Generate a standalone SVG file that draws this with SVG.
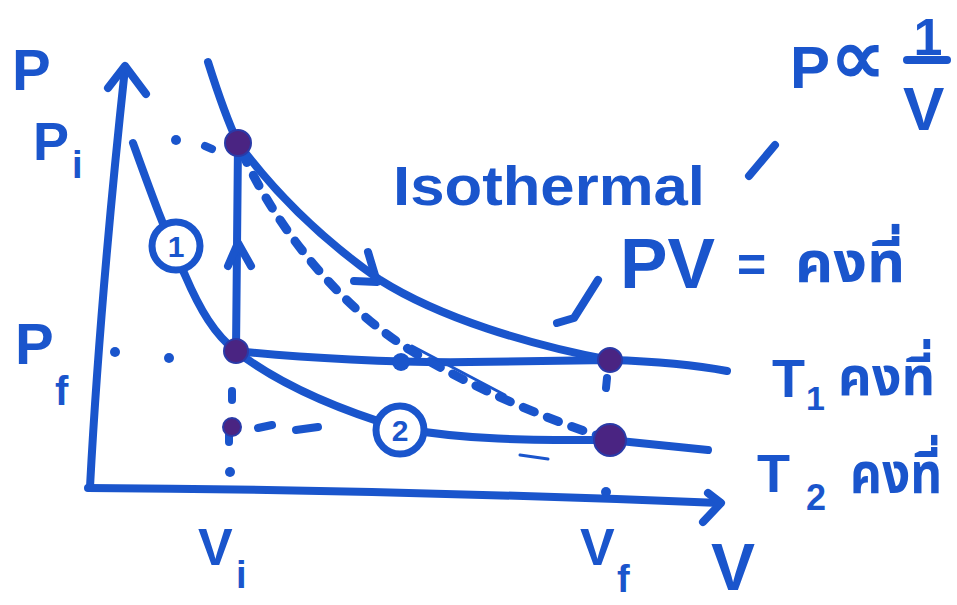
<svg xmlns="http://www.w3.org/2000/svg" width="957" height="605" viewBox="0 0 957 605">
<style>
.ink{fill:none;stroke:#1a55cc;stroke-width:8;stroke-linecap:round;stroke-linejoin:round}
.thin{fill:none;stroke:#1a55cc;stroke-width:3;stroke-linecap:round}
.dash{fill:none;stroke:#1a55cc;stroke-width:9;stroke-linecap:round;stroke-dasharray:12 14}
.dot{fill:#1a55cc}
.pt{fill:#4a2482;stroke:#2a3aa8;stroke-width:2}
.t{font-family:"Liberation Sans","Noto Sans",Arial,sans-serif;font-weight:bold;fill:#1a55cc}
.th{font-family:"Noto Sans Thai","Noto Sans","Liberation Sans","DejaVu Sans",sans-serif;font-weight:bold;fill:#1a55cc}
</style>
<rect width="957" height="605" fill="#ffffff"/>

<g id="axes">
  <path class="ink" d="M90 487 Q100 300 125 68"/>
  <path class="ink" d="M108 88 L125 66 L146 94"/>
  <path class="ink" d="M88 488 Q400 490 720 503"/>
  <path class="ink" d="M708 493 L721 503 L703 522"/>
</g>

<g id="connectors">
  <!-- T1 isotherm -->
  <path class="ink" d="M208 62 C220 100 228 122 238 143 C280 200 330 245 380 280 C440 318 530 345 610 360"/>
  <path class="ink" d="M368 252 L377 282 L354 281"/>
  <!-- Pf isobar -->
  <path class="ink" d="M236 351 C300 358 400 363 470 362 L610 360 Q680 362 727 371"/>
  <!-- T2 isotherm -->
  <path class="ink" d="M133 143 C150 190 165 232 185 275 C200 310 215 335 236 351 C280 385 340 410 400 428 C470 441 540 440 610 440 L708 450"/>
  <!-- vertical Vi with arrow -->
  <path class="ink" d="M238 143 L236 351"/>
  <path class="ink" d="M228 266 L238 243 L251 266"/>
  <!-- dashed adiabatic -->
  <path class="dash" d="M242 152 C270 215 330 300 410 350 C480 392 550 420 605 438"/>
  <path class="thin" d="M300 212 L318 232"/>
  <path class="thin" d="M412 346 L505 395"/>
  <path class="thin" d="M520 455 L548 459"/>
  <!-- dotted guides -->
  <circle class="dot" cx="176" cy="140" r="5"/>
  <path class="ink" d="M205 146 L212 149"/>
  <circle class="dot" cx="115" cy="352" r="5"/>
  <circle class="dot" cx="169" cy="358" r="5"/>
  <path class="ink" d="M232 391 L232 400"/>
  <path class="ink" d="M258 428 L272 425"/>
  <path class="ink" d="M296 430 L318 427"/>
  <path class="ink" d="M229 435 L229 442"/>
  <circle class="dot" cx="230" cy="472" r="5"/>
  <path class="ink" d="M607 378 L606 388"/>
  <circle class="dot" cx="606" cy="492" r="5"/>
  <!-- pointer to T1 -->
  <path class="ink" d="M598 280 L574 318 L557 323"/>
  <path class="ink" d="M775 145 L749 176"/>
</g>

<g id="node-circle1">
  <circle cx="176" cy="246" r="24" fill="#ffffff" stroke="#1a55cc" stroke-width="7"/>
  <text class="t" x="176" y="257" font-size="30" text-anchor="middle">1</text>
</g>
<g id="node-circle2">
  <circle cx="400" cy="430" r="24" fill="#ffffff" stroke="#1a55cc" stroke-width="7"/>
  <text class="t" x="400" y="441" font-size="30" text-anchor="middle">2</text>
</g>

<g id="node-A"><circle class="pt" cx="238" cy="143" r="13"/></g>
<g id="node-B"><circle class="pt" cx="236" cy="351" r="12"/></g>
<g id="node-C"><circle class="pt" cx="610" cy="360" r="12"/></g>
<g id="node-D"><circle class="pt" cx="610" cy="440" r="16"/></g>
<g id="node-E"><circle class="pt" cx="232" cy="427" r="9"/></g>
<g id="node-F"><circle class="dot" cx="401" cy="362" r="9"/></g>

<g id="labels">
  <text class="t" x="12" y="90" font-size="58">P</text>
  <text class="t" x="33" y="160" font-size="54">P</text>
  <text class="t" x="72" y="178" font-size="38">i</text>
  <text class="t" x="15" y="364" font-size="58">P</text>
  <text class="t" x="55" y="405" font-size="40">f</text>
  <text class="t" x="198" y="565" font-size="52">V</text>
  <text class="t" x="236" y="588" font-size="38">i</text>
  <text class="t" x="580" y="565" font-size="52">V</text>
  <text class="t" x="617" y="592" font-size="38">f</text>
  <text class="t" x="711" y="590" font-size="66">V</text>
  <text class="t" x="790" y="88" font-size="60">P</text>
  <text class="t" x="830" y="84" font-size="78" font-family="DejaVu Sans, sans-serif">∝</text>
  <text class="t" x="928" y="55" font-size="52" text-anchor="middle">1</text>
  <path class="ink" d="M907 60 L947 60"/>
  <text class="t" x="903" y="130" font-size="62">V</text>
  <text class="t" x="393" y="205" font-size="56" textLength="312" lengthAdjust="spacingAndGlyphs">Isothermal</text>
  <text class="t" x="620" y="288" font-size="70" textLength="95" lengthAdjust="spacingAndGlyphs">PV</text>
  <text class="t" x="737" y="282" font-size="50">=</text>
  <text class="th" x="795" y="282" font-size="56" textLength="110" lengthAdjust="spacingAndGlyphs">คงที่</text>
  <text class="t" x="772" y="397" font-size="54">T</text>
  <text class="t" x="806" y="410" font-size="34">1</text>
  <text class="th" x="838" y="395" font-size="54" textLength="97" lengthAdjust="spacingAndGlyphs">คงที่</text>
  <text class="t" x="757" y="492" font-size="54">T</text>
  <text class="t" x="806" y="510" font-size="36">2</text>
  <text class="th" x="850" y="493" font-size="56" textLength="92" lengthAdjust="spacingAndGlyphs">คงที่</text>
</g>
</svg>
